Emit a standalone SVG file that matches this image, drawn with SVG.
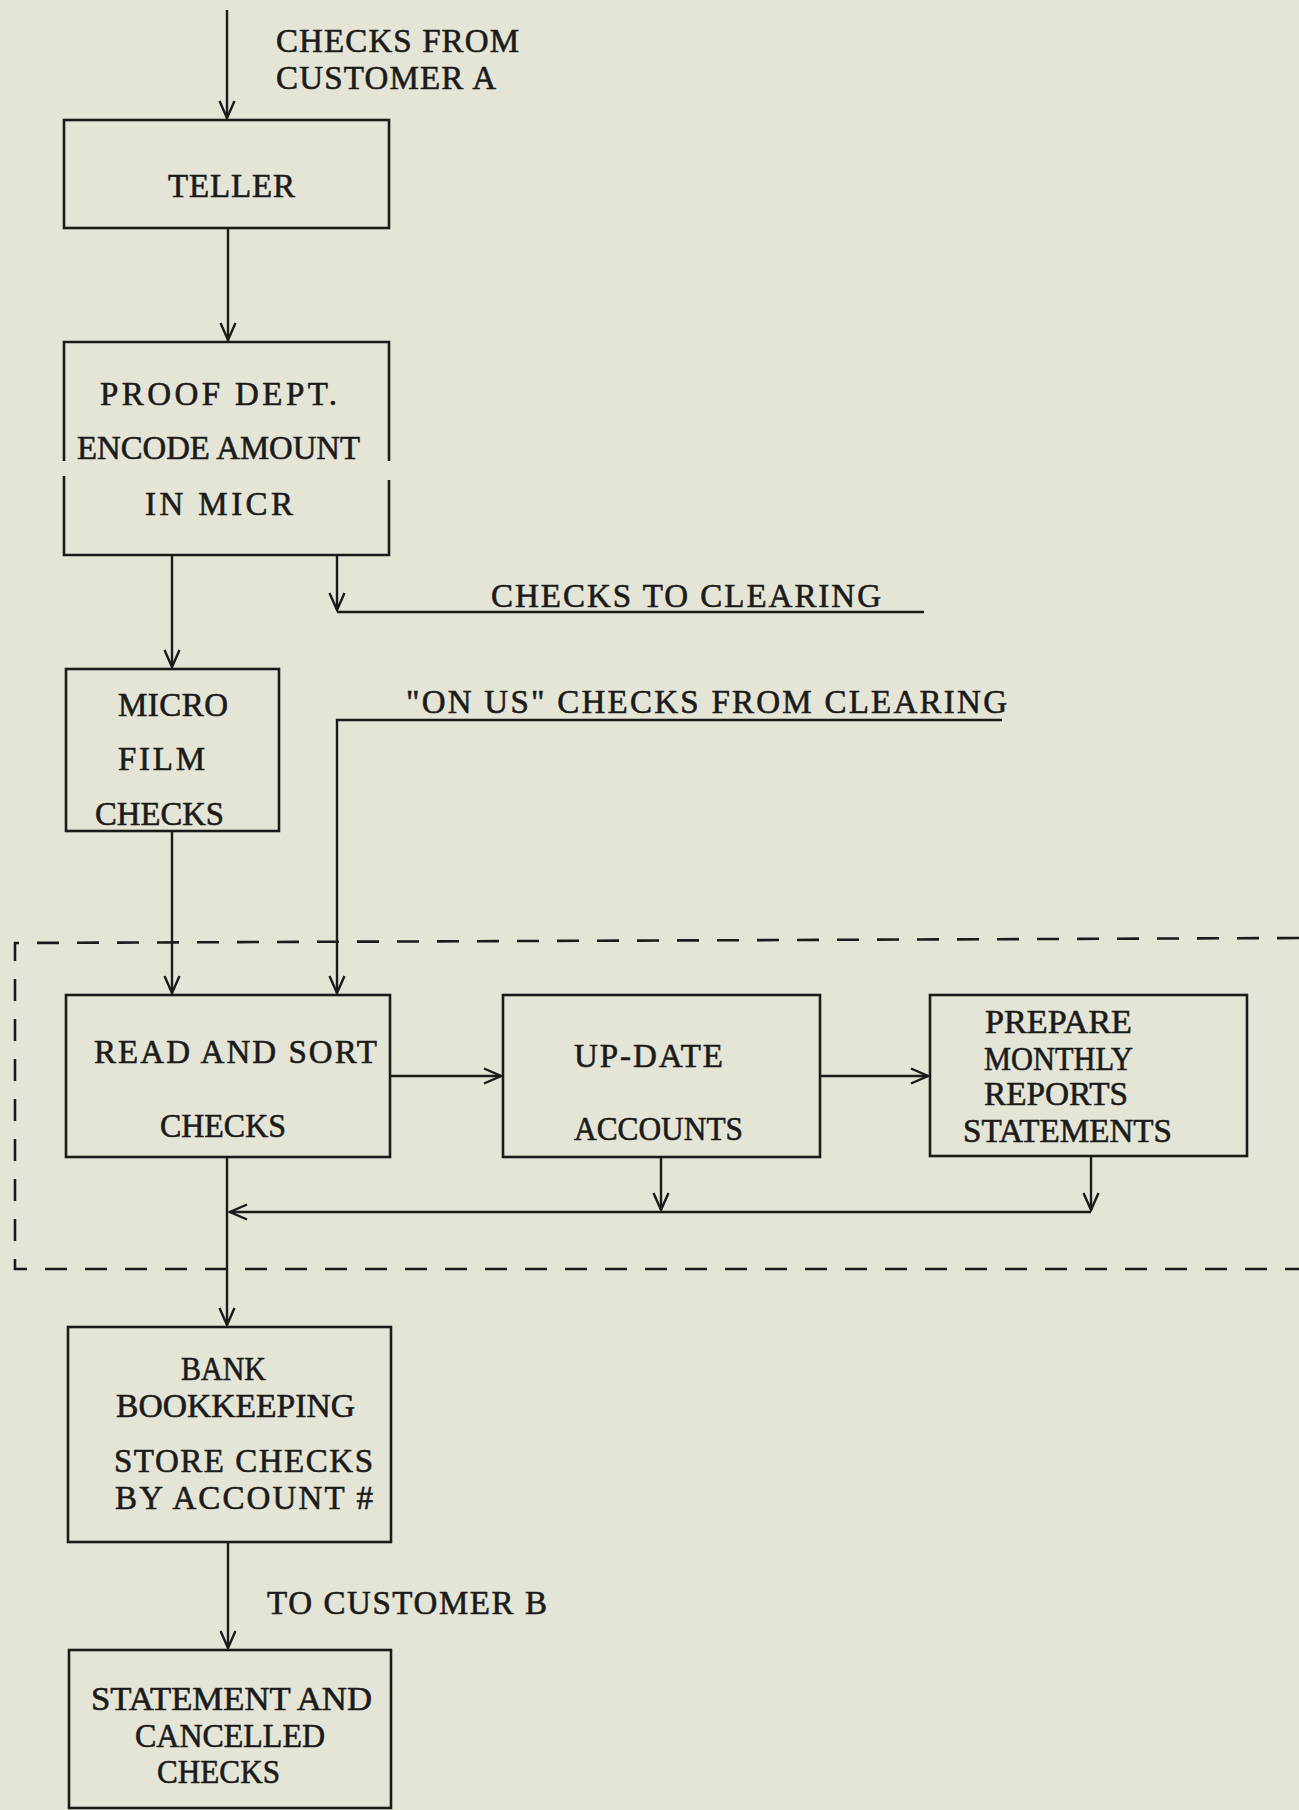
<svg xmlns="http://www.w3.org/2000/svg" width="1299" height="1810" viewBox="0 0 1299 1810">
<style>
.bg{fill:#e4e5d6}
.box{fill:none;stroke:#1b1b1b;stroke-width:2.6}
.ln{fill:none;stroke:#1b1b1b;stroke-width:2.4}
.dash{fill:none;stroke:#1b1b1b;stroke-width:2.6;stroke-dasharray:22 18}
text{font-family:"Liberation Serif","Times New Roman",serif;font-size:33px;fill:#1b1b1b;stroke:#1b1b1b;stroke-width:0.6}
</style>
<defs>
<marker id="ah" markerUnits="userSpaceOnUse" viewBox="-20 -10 22 20" markerWidth="22" markerHeight="20" refX="0" refY="0" orient="auto">
<path d="M-17,-7.5 L0,0 L-17,7.5" fill="none" stroke="#1b1b1b" stroke-width="2.4"/>
</marker>
</defs>
<rect class="bg" x="0" y="0" width="1299" height="1810"/>

<g id="boundary">
<path class="dash" d="M1299,938 L15,943 V1269 H1299"/>
</g>

<g id="connectors">
<path class="ln" d="M227,10 V118" marker-end="url(#ah)"/>
<path class="ln" d="M228,228 V340" marker-end="url(#ah)"/>
<path class="ln" d="M172,555 V667" marker-end="url(#ah)"/>
<path class="ln" d="M337,555 V610" marker-end="url(#ah)"/>
<path class="ln" d="M337,612 H924"/>
<path class="ln" d="M1002,720 H337 V993" marker-end="url(#ah)"/>
<path class="ln" d="M172,831 V993" marker-end="url(#ah)"/>
<path class="ln" d="M390,1076 H501" marker-end="url(#ah)"/>
<path class="ln" d="M820,1076 H928" marker-end="url(#ah)"/>
<path class="ln" d="M661,1157 V1210" marker-end="url(#ah)"/>
<path class="ln" d="M1091,1156 V1210" marker-end="url(#ah)"/>
<path class="ln" d="M1091,1212 H230" marker-end="url(#ah)"/>
<path class="ln" d="M227,1157 V1325" marker-end="url(#ah)"/>
<path class="ln" d="M228,1542 V1648" marker-end="url(#ah)"/>
</g>

<g id="label-checks-from-a">
<text x="276" y="52" textLength="243" lengthAdjust="spacing">CHECKS FROM</text>
<text x="276" y="89" textLength="220" lengthAdjust="spacing">CUSTOMER A</text>
</g>
<g id="label-to-clearing">
<text x="491" y="607" textLength="390" lengthAdjust="spacing">CHECKS TO CLEARING</text>
</g>
<g id="label-on-us">
<text x="406" y="713" textLength="601" lengthAdjust="spacing">"ON US" CHECKS FROM CLEARING</text>
</g>
<g id="label-to-customer-b">
<text x="267" y="1614" textLength="280" lengthAdjust="spacing">TO CUSTOMER B</text>
</g>

<g id="node-teller">
<rect class="box" x="64" y="120" width="325" height="108"/>
<text x="168" y="197" textLength="127" lengthAdjust="spacing">TELLER</text>
</g>

<g id="node-proof">
<path class="box" d="M64,461 V342 H389 V461 M389,480 V555 H64 V476"/>
<text x="100" y="405" textLength="237" lengthAdjust="spacing">PROOF DEPT.</text>
<text x="77" y="459" textLength="283" lengthAdjust="spacingAndGlyphs">ENCODE AMOUNT</text>
<text x="145" y="515" textLength="148" lengthAdjust="spacing">IN MICR</text>
</g>

<g id="node-microfilm">
<rect class="box" x="66" y="669" width="213" height="162"/>
<text x="118" y="716" textLength="110" lengthAdjust="spacing">MICRO</text>
<text x="118" y="770" textLength="87" lengthAdjust="spacing">FILM</text>
<text x="95" y="825" textLength="129" lengthAdjust="spacingAndGlyphs">CHECKS</text>
</g>

<g id="node-read-sort">
<rect class="box" x="66" y="995" width="324" height="162"/>
<text x="94" y="1063" textLength="283" lengthAdjust="spacing">READ AND SORT</text>
<text x="160" y="1137" textLength="126" lengthAdjust="spacingAndGlyphs">CHECKS</text>
</g>

<g id="node-update">
<rect class="box" x="503" y="995" width="317" height="162"/>
<text x="574" y="1067" textLength="149" lengthAdjust="spacing">UP-DATE</text>
<text x="574" y="1140" textLength="169" lengthAdjust="spacingAndGlyphs">ACCOUNTS</text>
</g>

<g id="node-prepare">
<rect class="box" x="930" y="995" width="317" height="161"/>
<text x="985" y="1033" textLength="147" lengthAdjust="spacingAndGlyphs">PREPARE</text>
<text x="984" y="1070" textLength="149" lengthAdjust="spacingAndGlyphs">MONTHLY</text>
<text x="984" y="1105" textLength="144" lengthAdjust="spacingAndGlyphs">REPORTS</text>
<text x="963" y="1142" textLength="209" lengthAdjust="spacingAndGlyphs">STATEMENTS</text>
</g>

<g id="node-bookkeeping">
<rect class="box" x="68" y="1327" width="323" height="215"/>
<text x="181" y="1380" textLength="85" lengthAdjust="spacingAndGlyphs">BANK</text>
<text x="116" y="1417" textLength="239" lengthAdjust="spacingAndGlyphs">BOOKKEEPING</text>
<text x="114" y="1472" textLength="259" lengthAdjust="spacing">STORE CHECKS</text>
<text x="115" y="1509" textLength="258" lengthAdjust="spacing">BY ACCOUNT #</text>
</g>

<g id="node-statement">
<rect class="box" x="69" y="1650" width="322" height="158"/>
<text x="91" y="1710" textLength="281" lengthAdjust="spacingAndGlyphs">STATEMENT AND</text>
<text x="135" y="1747" textLength="190" lengthAdjust="spacingAndGlyphs">CANCELLED</text>
<text x="157" y="1783" textLength="123" lengthAdjust="spacingAndGlyphs">CHECKS</text>
</g>
</svg>
